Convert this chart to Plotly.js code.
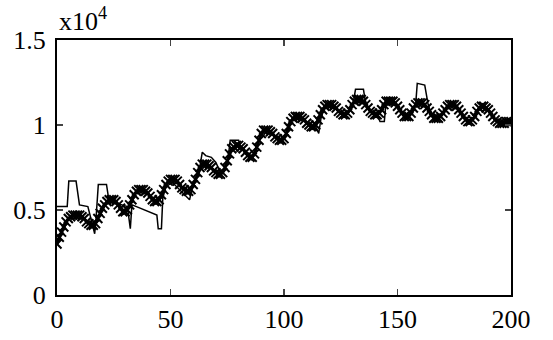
<!DOCTYPE html>
<html>
<head>
<meta charset="utf-8">
<script src="https://cdn.plot.ly/plotly-3.0.1.min.js"></script>
<style>html,body{margin:0;padding:0;background:#fff;}#chart{width:553px;height:340px;}</style>
</head>
<body>
<div id="chart"></div>
<script>
// Thick series (markers) – values in units of 1e4, one per integer x = 0..200
var thickY = [
0.30,0.34,0.37,0.40,0.43,0.45,0.46,0.47,0.47,0.47,
0.47,0.46,0.45,0.43,0.42,0.41,0.41,0.42,0.45,0.48,
0.51,0.53,0.55,0.56,0.56,0.56,0.55,0.53,0.51,0.49,
0.49,0.50,0.53,0.56,0.59,0.61,0.62,0.62,0.62,0.61,
0.60,0.58,0.56,0.55,0.55,0.56,0.59,0.62,0.65,0.67,
0.68,0.68,0.68,0.67,0.65,0.63,0.62,0.61,0.61,0.62,
0.65,0.68,0.72,0.75,0.77,0.77,0.77,0.76,0.75,0.73,
0.72,0.71,0.71,0.72,0.75,0.79,0.83,0.86,0.87,0.88,
0.88,0.87,0.86,0.84,0.82,0.81,0.81,0.83,0.87,0.91,
0.95,0.97,0.97,0.97,0.96,0.95,0.93,0.92,0.91,0.91,
0.92,0.95,0.99,1.02,1.04,1.05,1.05,1.05,1.04,1.03,
1.01,1.00,0.99,0.99,1.00,1.03,1.06,1.09,1.11,1.12,
1.12,1.12,1.11,1.10,1.08,1.07,1.06,1.06,1.07,1.09,
1.12,1.14,1.15,1.15,1.15,1.14,1.12,1.10,1.08,1.07,
1.06,1.06,1.07,1.09,1.12,1.14,1.14,1.14,1.14,1.13,
1.11,1.09,1.07,1.05,1.05,1.05,1.07,1.10,1.12,1.13,
1.13,1.13,1.12,1.10,1.08,1.06,1.04,1.04,1.04,1.05,
1.07,1.09,1.11,1.12,1.12,1.12,1.11,1.09,1.07,1.05,
1.03,1.02,1.02,1.03,1.05,1.08,1.10,1.11,1.11,1.10,
1.09,1.07,1.05,1.03,1.02,1.01,1.01,1.01,1.02,1.02,
1.02];
var thickX = [];
for (var i = 0; i < thickY.length; i++) thickX.push(i);

// Thin series
var thinX = [0,4.5,5.2,8.4,9.9,13.6,15.5,16.6,17.2,18.2,21.8,22.6,23.5,26,29,31,32.3,33,35,40,44,44.6,46,46.6,48,51,52.5,55,58.4,59.4,61,63,64,65.5,68,70,72,74,75.5,76.3,80,80.8,82,84,86,88,90,92,96,99,101,103,106,109,112,114,115.3,116.3,118,121,124,127,129,130.5,131.5,135,135.7,137,139,141,142.3,144.2,145,148,151,154,156,158,158.7,162,163.5,165,168,171,174,177,180,183,186,188,191,194,197,200];
var thinY = [0.52,0.52,0.67,0.67,0.53,0.52,0.42,0.36,0.45,0.65,0.65,0.58,0.55,0.54,0.53,0.52,0.39,0.53,0.52,0.49,0.47,0.39,0.39,0.57,0.64,0.66,0.64,0.61,0.56,0.62,0.68,0.76,0.84,0.82,0.81,0.78,0.72,0.75,0.82,0.91,0.91,0.87,0.86,0.82,0.81,0.87,0.95,0.97,0.93,0.91,0.95,1.02,1.05,1.03,0.99,0.99,0.95,1.04,1.11,1.12,1.08,1.06,1.09,1.13,1.21,1.21,1.15,1.10,1.07,1.06,1.02,1.02,1.14,1.14,1.09,1.05,1.07,1.12,1.245,1.235,1.12,1.06,1.04,1.09,1.12,1.09,1.03,1.03,1.10,1.11,1.07,1.02,1.01,1.02];

var xTicks = [0,50,100,150,200];
var yTicks = [0,0.5,1,1.5];
var yTickText = ['0','0.5','1','1.5'];

function serif(sz) { return {family:'Liberation Serif', size:sz, color:'#000'}; }

var traces = [
  {x: thinX, y: thinY, mode:'lines', line:{color:'#000', width:1.5}, hoverinfo:'skip'},
  {x: thickX, y: thickY, mode:'lines+markers', line:{color:'#000', width:3},
   marker:{symbol:'x-thin', size:9, color:'#000', line:{color:'#000', width:2}}, hoverinfo:'skip'}
];

var layout = {
  width:553, height:340,
  margin:{l:57, r:42, t:40, b:45},
  paper_bgcolor:'#fff', plot_bgcolor:'#fff',
  showlegend:false,
  font: serif(26),
  xaxis:{range:[0,200], tickmode:'array', tickvals:xTicks, ticktext:xTicks.map(String), ticks:'inside', ticklen:6, tickwidth:1.5,
         showline:true, linewidth:2, linecolor:'#000', mirror:'ticks', showgrid:false, zeroline:false,
         tickfont:serif(26)},
  yaxis:{range:[0,1.5], tickmode:'array', tickvals:yTicks, ticktext:yTickText, ticks:'inside', ticklen:6, tickwidth:1.5,
         showline:true, linewidth:2, linecolor:'#000', mirror:'ticks', showgrid:false, zeroline:false,
         tickfont:serif(26), ticklabelstandoff:4},
  annotations:[{text:'x10<sup>4</sup>', xref:'paper', yref:'paper', x:0, y:1, xanchor:'left', yanchor:'bottom',
                yshift:2, showarrow:false, font:serif(26)}]
};

Plotly.newPlot('chart', traces, layout, {displayModeBar:false, staticPlot:true});
</script>
</body>
</html>
